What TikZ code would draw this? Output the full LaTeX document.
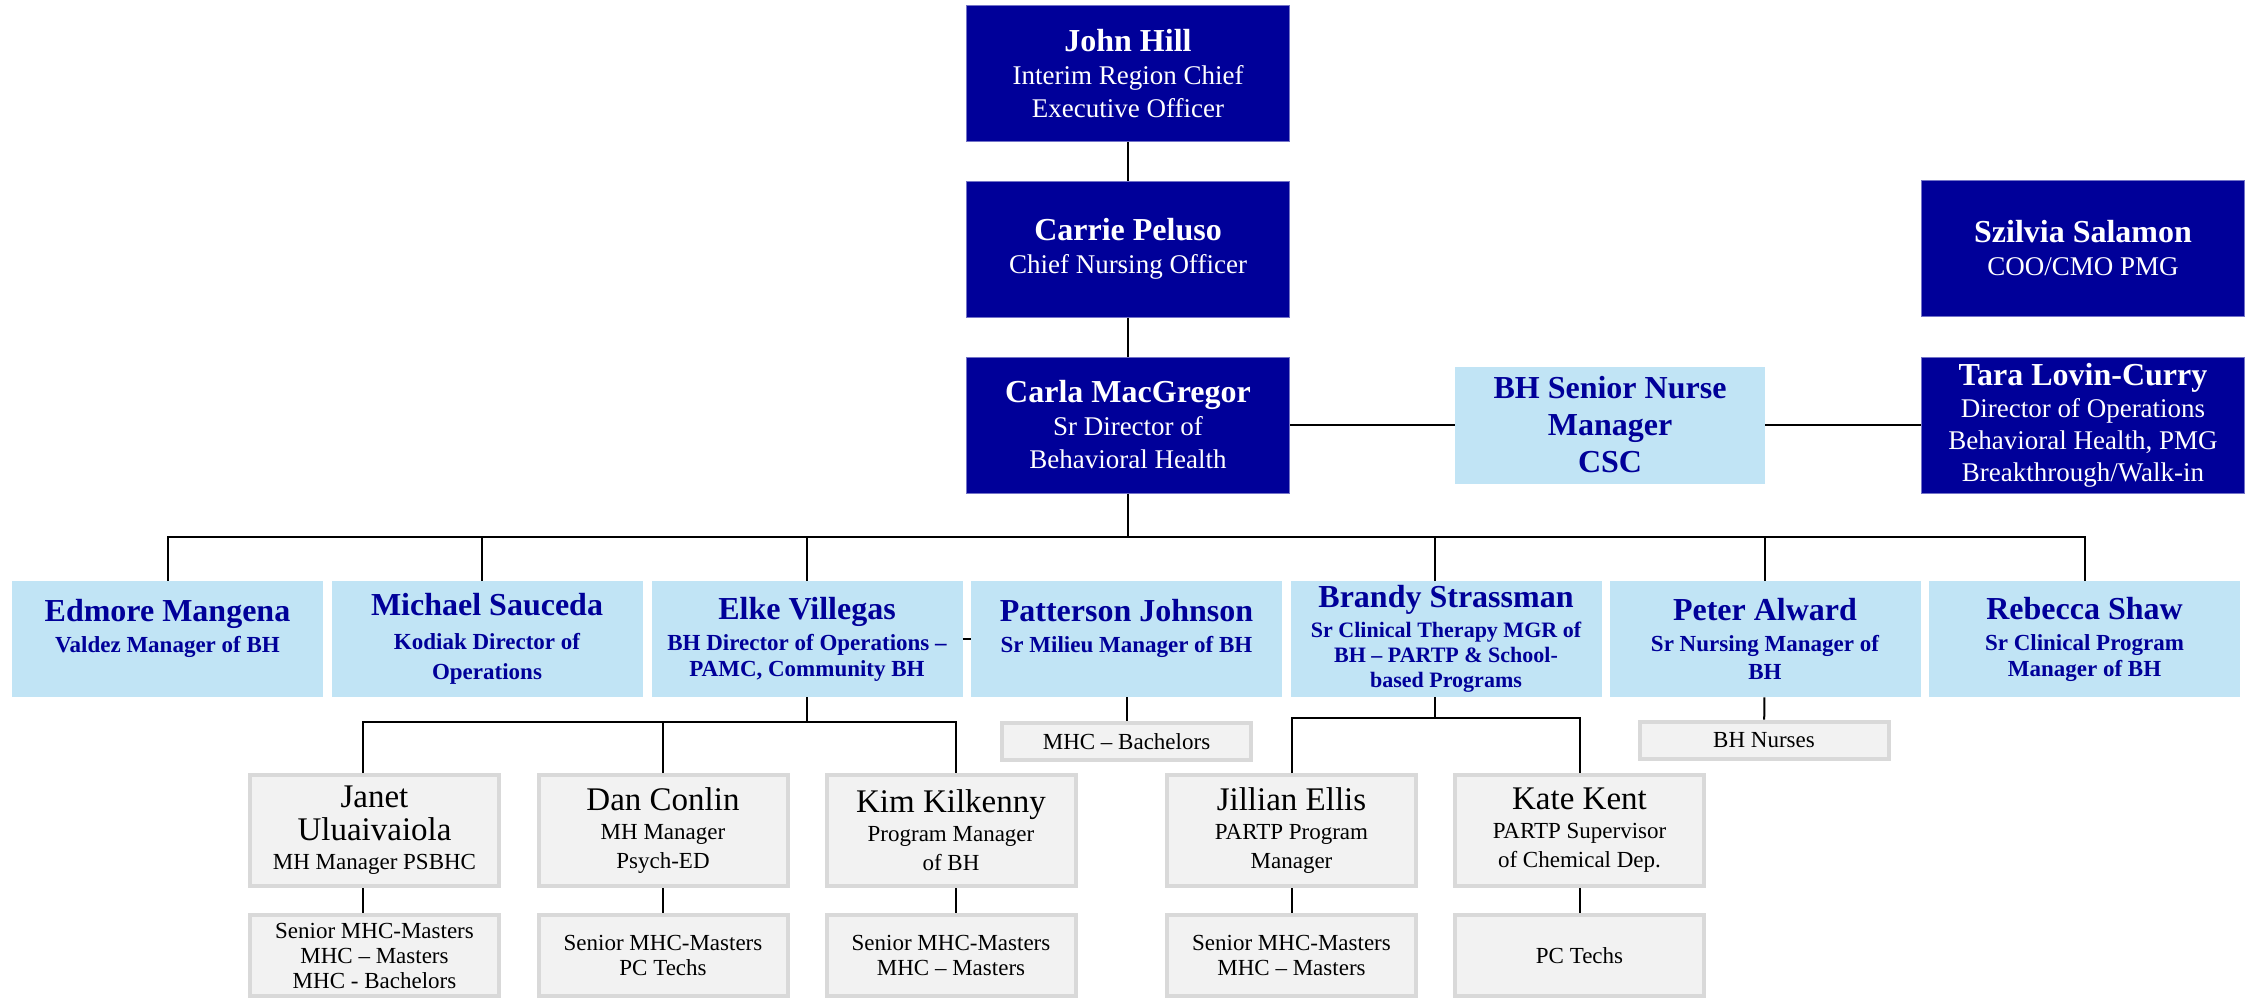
\documentclass[tikz,border=0pt]{standalone}
\usepackage{fontspec}
\setmainfont{Liberation Serif}
\usetikzlibrary{positioning}

\definecolor{navy}{HTML}{000099}
\definecolor{paleblue}{HTML}{C1E4F5}
\definecolor{greyfill}{HTML}{F2F2F2}
\definecolor{greyedge}{HTML}{D9D9D9}

\newcommand{\bossname}[1]{{\fontsize{16}{16}\selectfont\bfseries #1}}
\newcommand{\leadname}[1]{{\fontsize{16}{16}\selectfont #1}}
\newcommand{\staffname}[1]{{\fontsize{16.5}{16.5}\selectfont #1}}

\begin{document}
\begin{tikzpicture}[x=0.5pt, y=-0.5pt,
% node styles
boss/.style={rectangle, fill=navy, draw=navy!55!white, line width=0.4pt, text=white, minimum width=161.6pt, minimum height=68.1pt, inner sep=0pt, align=center, font=\fontsize{13.5}{16.5}\selectfont},
lead/.style={rectangle, fill=paleblue, text=navy, minimum width=155.5pt, minimum height=58pt, inner sep=0pt, align=center, font=\fontsize{11.5}{13}\selectfont\bfseries},
staff/.style={rectangle, fill=greyfill, draw=greyedge, line width=2pt, minimum width=124.5pt, minimum height=55.5pt, inner sep=0pt, align=center, font=\fontsize{11.5}{14.5}\selectfont},
team/.style={staff, minimum height=40.5pt, font=\fontsize{11.5}{12.5}\selectfont},
teamtag/.style={staff, minimum height=18.5pt},
link/.style={draw=black, line width=1pt}
]

\useasboundingbox (0,0) rectangle (2255,998);

% nodes
\node[boss] (john) at (1128,73.5) {\bossname{John Hill}\\Interim Region Chief\\Executive Officer};
\node[boss] (carrie) at (1128,249) {\bossname{Carrie Peluso}\\Chief Nursing Officer};
\node[boss] (carla) at (1128,425) {\bossname{Carla MacGregor}\\Sr Director of\\Behavioral Health};
\node[boss] (szilvia) at (2083,248.5) {\bossname{Szilvia Salamon}\\COO/CMO PMG};
\node[boss, font=\fontsize{13.5}{16}\selectfont] (tara) at (2083,425) {\bossname{Tara Lovin-Curry}\\Director of Operations\\Behavioral Health, PMG\\Breakthrough/Walk-in};
\node[lead, minimum width=155pt, minimum height=58.5pt, font=\fontsize{16}{18.5}\selectfont\bfseries] (nurse) at (1610,425) {BH Senior Nurse\\Manager\\CSC};

\node[lead] (edmore) at (167.5,639) {\leadname{Edmore Mangena}\\[2.5pt]Valdez Manager of BH\\~};
\node[lead] (michael) at (487,639) {\leadname{Michael Sauceda}\\[4pt]Kodiak Director of\\[2pt]Operations};
\node[lead] (elke) at (807,639) {\leadname{Elke Villegas}\\[2.5pt]BH Director of Operations --\\PAMC, Community BH};
\node[lead] (patterson) at (1126.5,639) {\leadname{Patterson Johnson}\\[2.5pt]Sr Milieu Manager of BH\\~};
\node[lead, font=\fontsize{11}{12.5}\selectfont\bfseries] (brandy) at (1446,639) {\leadname{Brandy Strassman}\\[2.5pt]Sr Clinical Therapy MGR of\\BH -- PARTP \& School-\\based Programs};
\node[lead] (peter) at (1765,639) {\leadname{Peter Alward}\\[2.5pt]Sr Nursing Manager of\\[1pt]BH};
\node[lead] (rebecca) at (2084.5,639) {\leadname{Rebecca Shaw}\\[2.5pt]Sr Clinical Program\\Manager of BH};

\node[teamtag] (mhcbach) at (1126.5,741.5) {MHC -- Bachelors};
\node[teamtag] (bhnurses) at (1764,740) {BH Nurses};

\node[staff] (janet) at (374.5,830.5) {\staffname{Janet}\\[2pt]\staffname{Uluaivaiola}\\MH Manager PSBHC};
\node[staff] (dan) at (663,830.5) {\staffname{Dan Conlin}\\MH Manager\\Psych-ED};
\node[staff] (kim) at (951,830.5) {\staffname{Kim Kilkenny}\\Program Manager\\of BH};
\node[staff] (jillian) at (1291.5,830.5) {\staffname{Jillian Ellis}\\PARTP Program\\Manager};
\node[staff] (kate) at (1579.5,830.5) {\staffname{Kate Kent}\\PARTP Supervisor\\of Chemical Dep.};

\node[team] (janetteam) at (374.5,955.5) {Senior MHC-Masters\\MHC -- Masters\\MHC - Bachelors};
\node[team] (danteam) at (663,955.5) {Senior MHC-Masters\\PC Techs};
\node[team] (kimteam) at (951,955.5) {Senior MHC-Masters\\MHC -- Masters};
\node[team] (jillianteam) at (1291.5,955.5) {Senior MHC-Masters\\MHC -- Masters};
\node[team] (kateteam) at (1579.5,955.5) {PC Techs};

% draw lines between nodes
\draw[link] (john) -- (carrie);
\draw[link] (carrie) -- (carla);
\draw[link] (carla) -- (nurse);
\draw[link] (nurse) -- (tara);

\coordinate (bus) at ([yshift=-21.5pt]carla.south);
\draw[link] (carla) -- (bus);
\draw[link] (edmore.north) |- (bus) -| (rebecca.north);
\foreach \n/\s in {michael/-2.5, elke/0, brandy/-5.5, peter/0}
  \draw[link] ([xshift=\s pt]\n.north) -- ([xshift=\s pt]\n.north |- bus);
\draw[link] (elke) -- (patterson);

% Elke's team
\coordinate (elkebus) at ([yshift=-12.5pt]elke.south);
\draw[link] (elke) -- (elkebus);
\draw[link] ([xshift=-6pt]janet.north) |- (elkebus) -| ([xshift=2.5pt]kim.north);
\draw[link] (dan) -- (dan.north |- elkebus);
\draw[link] ([xshift=-6pt]janet.south) -- ([xshift=-6pt]janetteam.north);
\draw[link] (dan) -- (danteam);
\draw[link] ([xshift=2.5pt]kim.south) -- ([xshift=2.5pt]kimteam.north);

% Brandy's team
\coordinate (brandybus) at ([xshift=-5.5pt, yshift=-10.5pt]brandy.south);
\draw[link] ([xshift=-5.5pt]brandy.south) -- (brandybus);
\draw[link] (jillian.north) |- (brandybus) -| (kate.north);
\draw[link] (jillian) -- (jillianteam);
\draw[link] (kate) -- (kateteam);

% single teams
\draw[link] (patterson) -- (mhcbach);
\draw[link] (peter) -- (bhnurses);

\end{tikzpicture}
\end{document}
